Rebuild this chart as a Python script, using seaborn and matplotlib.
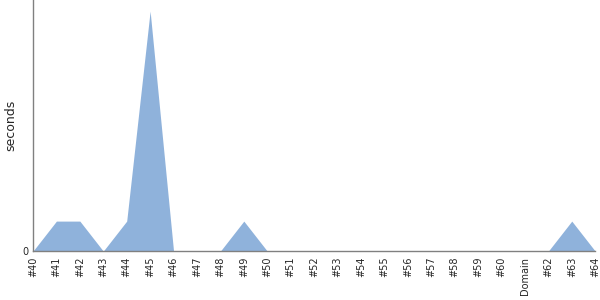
import matplotlib
matplotlib.use("Agg")
import matplotlib.pyplot as plt
import seaborn as sns
import pandas as pd
import numpy as np

categories = ["#40", "#41", "#42", "#43", "#44", "#45", "#46", "#47", "#48", "#49",
              "#50", "#51", "#52", "#53", "#54", "#55", "#56", "#57", "#58", "#59",
              "#60", "Domain", "#62", "#63", "#64"]
seconds = [0, 1, 1, 0, 1, 8, 0, 0, 0, 1,
           0, 0, 0, 0, 0, 0, 0, 0, 0, 0,
           0, 0, 0, 1, 0]

df = pd.DataFrame({"cat": categories, "seconds": seconds})
df["pos"] = np.arange(len(df))

sns.set_style("white")
plt.rcParams["font.family"] = ["DejaVu Sans"]

fig = plt.figure(figsize=(6, 3), dpi=100)
ax = fig.add_axes([0.055, 0.163, 0.937, 0.837])

color = "#8FB2DB"
sns.lineplot(data=df, x="pos", y="seconds", ax=ax, color=color, linewidth=0)
ax.fill_between(df["pos"], df["seconds"], 0, color=color, linewidth=0)

ax.set_xlim(0, len(df) - 1)
ax.set_ylim(0, 8.37)
ax.set_xticks(df["pos"])
ax.set_xticklabels(df["cat"], rotation=90, fontsize=7)
ax.set_yticks([0])
ax.set_yticklabels(["0"], fontsize=7)
ax.set_xlabel("")
ax.set_ylabel("seconds", fontsize=9)
ax.tick_params(axis="x", length=0, pad=4)
ax.tick_params(axis="y", length=0, pad=3)

for side in ["top", "right"]:
    ax.spines[side].set_visible(False)
for side in ["left", "bottom"]:
    ax.spines[side].set_color("#808080")
    ax.spines[side].set_linewidth(1)

fig.savefig("out.png", dpi=100)
